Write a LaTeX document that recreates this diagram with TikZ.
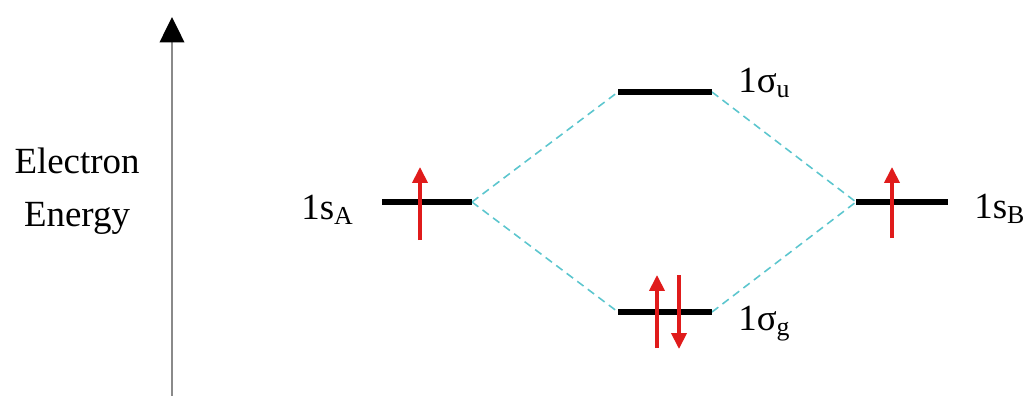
\documentclass[tikz,border=0pt]{standalone}
\usepackage{fontspec}
\setmainfont{Liberation Serif}
\newfontfamily\labfont{Liberation Serif}
\usetikzlibrary{arrows.meta,positioning}
\definecolor{spinred}{HTML}{E01B1B}
\definecolor{mixcyan}{HTML}{5CC6CE}
\definecolor{axisgray}{HTML}{8A8A8A}

\begin{document}
\begin{tikzpicture}[
  x=0.02cm,y=-0.02cm,
  level/.style={draw=black,line width=3.1pt},
  corr/.style={draw=mixcyan,line width=.9pt,dash pattern=on 4.5pt off 3pt},
  spin/.style={-{Triangle[length=9pt,width=8.5pt]},line width=2pt,draw=spinred},
  axisline/.style={-{Triangle[length=14.5pt,width=14pt,color=black]},line width=1.2pt,draw=axisgray},
  lab/.style={inner sep=0pt,font=\labfont\fontsize{21}{25}\selectfont}
]
\useasboundingbox (0,0) rectangle (1029,396);
% energy axis
\coordinate (ax0) at (172,396);
\coordinate (ax1) at (172,17);
\draw[axisline] (ax0)--(ax1);
\node[lab,anchor=base] (el) at (77,173) {Electron};
\node[lab,anchor=base] (en) at (77,226) {Energy};
% levels
\coordinate (a1) at (382,202); \coordinate (a2) at (472,202);
\coordinate (b1) at (856,202); \coordinate (b2) at (948,202);
\coordinate (u1) at (618,92);  \coordinate (u2) at (712,92);
\coordinate (g1) at (618,312); \coordinate (g2) at (712,312);
\draw[corr] (a2)--(u1); \draw[corr] (a2)--(g1);
\draw[corr] (u2)--(b1); \draw[corr] (g2)--(b1);
\draw[level] (a1)--(a2); \draw[level] (b1)--(b2);
\draw[level] (u1)--(u2); \draw[level] (g1)--(g2);
\node[lab,anchor=base west] (sa) at (301,219) {1s\textsubscript{A}};
\node[lab,anchor=base west] (sb) at (974,218) {1s\textsubscript{B}};
\node[lab,anchor=base west] (su) at (738,92) {1σ\textsubscript{u}};
\node[lab,anchor=base west] (sg) at (738,330) {1σ\textsubscript{g}};
% electrons
\draw[spin] (420,240)--(420,167);
\draw[spin] (892,238)--(892,167);
\draw[spin] (657,348)--(657,275);
\draw[spin] (679,275)--(679,349);
\end{tikzpicture}
\end{document}
